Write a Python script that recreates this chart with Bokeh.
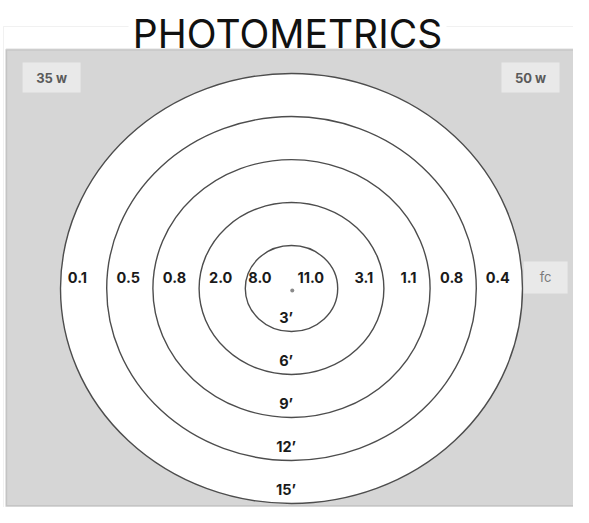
from bokeh.plotting import figure
from bokeh.models import ColumnDataSource, Range1d, BoxAnnotation
from bokeh.core.properties import value
from bokeh.embed import file_html
from bokeh.resources import INLINE

# ---- data ----
title_text = "PHOTOMETRICS"
radii_ft = [3, 6, 9, 12, 15]
distance_labels = ["3’", "6’", "9’", "12’", "15’"]
fc_35w = ["8.0", "2.0", "0.8", "0.5", "0.1"]   # inner -> outer, left half
fc_50w = ["11.0", "3.1", "1.1", "0.8", "0.4"]  # inner -> outer, right half
wattage_labels = ["35 w", "50 w"]
unit_label = "fc"

# ---- layout (feet from fixture centre) ----
left_x = [-2.05, -4.6, -7.6, -10.6, -13.9]
right_x = [1.25, 4.7, 7.6, 10.4, 13.4]
row_y = 0.77

FONT = "Inter"

p = figure(width=573, height=507, output_backend="svg", toolbar_location=None,
           x_range=Range1d(-18.896, 18.312), y_range=Range1d(-15.282, 20.098),
           min_border=0, background_fill_color="white", border_fill_color="white")
p.axis.visible = False
p.grid.visible = False
p.outline_line_color = None

# outer thin frame
p.add_layout(BoxAnnotation(left=-18.70, right=None, top=18.28, bottom=None,
                           fill_alpha=0, line_color="#cdcdcd", line_width=1,
                           level="underlay"))
# grey panel
p.add_layout(BoxAnnotation(left=-18.53, right=18.77, top=16.68, bottom=-15.20,
                           fill_color="#d6d6d6", fill_alpha=1.0,
                           line_color="#8e8e8e", line_width=2, level="underlay"))

# title
p.rect(x=[-0.26], y=[18.40], width=318, height=32, width_units="screen",
       height_units="screen", fill_color="white", line_color=None)
p.text(x=[-0.26], y=[17.80], text=[title_text], text_align="center",
       text_baseline="alphabetic", text_font=value(FONT), text_font_size="39px",
       text_color="#111111")

# rings (largest first)
ring_src = ColumnDataSource(dict(x=[0] * len(radii_ft), y=[0] * len(radii_ft),
                                 d=[2 * r for r in sorted(radii_ft, reverse=True)]))
p.ellipse(x="x", y="y", width="d", height="d", source=ring_src,
          fill_color="white", line_color="#4d4d4d", line_width=1.4)

# centre dot
p.scatter(x=[0.05], y=[-0.14], size=4, color="#8a8a8a", line_color=None)

# footcandle labels
fc_src = ColumnDataSource(dict(
    x=left_x + right_x,
    y=[row_y] * (len(left_x) + len(right_x)),
    t=fc_35w + fc_50w))
p.text(x="x", y="y", text="t", source=fc_src, text_align="center",
       text_baseline="middle", text_font=value(FONT), text_font_style="bold",
       text_font_size="14.5px", text_color="#1a1a1a")

# distance labels just inside each ring bottom
dist_src = ColumnDataSource(dict(x=[-0.35] * len(radii_ft),
                                 y=[-(r - 0.95) for r in radii_ft],
                                 t=distance_labels))
p.text(x="x", y="y", text="t", source=dist_src, text_align="center",
       text_baseline="middle", text_font=value(FONT), text_font_style="bold",
       text_font_size="14.5px", text_color="#1a1a1a")

# wattage tags
tag_src = ColumnDataSource(dict(x=[-15.58, 15.52], y=[14.72, 14.72], t=wattage_labels))
p.rect(x="x", y="y", width=58, height=30, width_units="screen", height_units="screen",
       source=tag_src, fill_color="#e9e9e9", line_color=None)
p.text(x="x", y="y", text="t", source=tag_src, text_align="center",
       text_baseline="middle", text_font=value(FONT), text_font_style="bold",
       text_font_size="13px", text_color="#5a5a5a")

# unit tag
unit_src = ColumnDataSource(dict(x=[16.5], y=[row_y], t=[unit_label]))
p.rect(x="x", y="y", width=44, height=32, width_units="screen", height_units="screen",
       source=unit_src, fill_color="#e9e9e9", line_color=None)
p.text(x="x", y="y", text="t", source=unit_src, text_align="center",
       text_baseline="middle", text_font=value(FONT),
       text_font_size="13px", text_color="#7a7a7a")

open("out.html", "w").write(file_html(p, INLINE))
